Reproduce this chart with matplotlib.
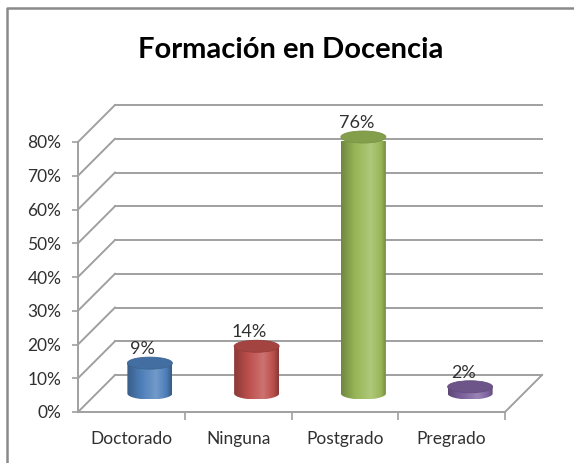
import numpy as np
import matplotlib
matplotlib.use("Agg")
import matplotlib.pyplot as plt
from matplotlib.patches import Ellipse, PathPatch
from matplotlib.path import Path
from matplotlib.lines import Line2D
from matplotlib.transforms import ScaledTranslation
from matplotlib.colors import LinearSegmentedColormap, to_rgb

plt.rcParams['font.family'] = ['Lato', 'DejaVu Sans']

# datos
categorias = ['Doctorado', 'Ninguna', 'Postgrado', 'Pregrado']
porcentajes = [9, 14, 76, 2]
colores = ['#4f81bd', '#c0504d', '#9bbb59', '#8064a2']
niveles = list(range(0, 81, 10))
titulo = 'Formación en Docencia'

W, H = 574, 463
fig = plt.figure(figsize=(W / 100, H / 100), dpi=100)
fig.patch.set_facecolor('white')

# plano frontal del grafico 3d
ax = fig.add_axes([78 / W, 51 / H, 427 / W, 270 / H])
ax.set_xlim(-0.5, 3.5)
ax.set_ylim(0, 80)
ax.set_facecolor('none')

# pixeles por unidad de datos, para la profundidad
p0 = ax.transData.transform((0, 0))
p1 = ax.transData.transform((1, 10))
px_x = p1[0] - p0[0]
px_y = (p1[1] - p0[1]) / 10
prof = 37
ddx = prof / px_x
ddy = prof / px_y

gris = '#a0a0a0'
for v in niveles:
    ax.plot([-0.5, -0.5 + ddx], [v, v + ddy], color=gris, lw=1.4, clip_on=False, zorder=1)
    ax.plot([-0.5 + ddx, 3.5 + ddx], [v + ddy, v + ddy], color=gris, lw=1.4, clip_on=False, zorder=1)
ax.plot([3.5, 3.5 + ddx], [0, ddy], color=gris, lw=1.4, clip_on=False, zorder=1)

for s in ['top', 'right']:
    ax.spines[s].set_visible(False)
for s in ['left', 'bottom']:
    ax.spines[s].set_color(gris)
    ax.spines[s].set_linewidth(1.4)

ax.set_yticks(niveles)
ax.set_yticklabels([f'{v}%' for v in niveles])
ax.tick_params(axis='y', length=4, width=1.2, color=gris, pad=8, labelsize=12.5, labelcolor='#303030')
ax.set_xticks(range(len(categorias)))
ax.set_xticklabels(categorias)
ax.tick_params(axis='x', which='major', length=0, pad=14, labelsize=12.5, labelcolor='#303030')
ax.set_xticks([0.5, 1.5, 2.5, 3.5], minor=True)
ax.tick_params(axis='x', which='minor', length=6, width=1.2, color=gris)


def mezcla(c, f):
    r = np.array(to_rgb(c))
    if f < 1:
        return tuple(r * f)
    return tuple(r + (1 - r) * (f - 1))


w = 22.5 / px_x
h = 12 / px_y
grad = np.linspace(0, 1, 200).reshape(1, -1)
for i, (v, c) in enumerate(zip(porcentajes, colores)):
    cx = i + 0.5 * ddx
    base = 0.5 * ddy
    top = v + 0.5 * ddy
    t = np.linspace(np.pi, 2 * np.pi, 60)
    xs = np.concatenate([[cx - w], cx + w * np.cos(t), [cx + w]])
    ys = np.concatenate([[top], base + h / 2 * np.sin(t), [top]])
    verts = list(zip(xs, ys)) + [(cx - w, top)]
    cuerpo = PathPatch(Path(verts), facecolor='none', edgecolor='none', zorder=3)
    ax.add_patch(cuerpo)
    cmap = LinearSegmentedColormap.from_list(
        'c%d' % i,
        [(0, mezcla(c, 0.72)), (0.3, mezcla(c, 0.97)), (0.65, mezcla(c, 1.2)),
         (0.88, mezcla(c, 0.97)), (1, mezcla(c, 0.7))])
    im = ax.imshow(grad, cmap=cmap, extent=[cx - w, cx + w, base - h / 2, top],
                   aspect='auto', zorder=3, interpolation='bilinear')
    im.set_clip_path(cuerpo)
    im.set_clip_box(None)
    ax.add_patch(Ellipse((cx, top), 2 * w, h, facecolor=mezcla(c, 0.85),
                         edgecolor=mezcla(c, 0.78), lw=0.6, zorder=4, clip_on=False))
    tr = ax.transData + ScaledTranslation(-0.07, 0.0, fig.dpi_scale_trans)
    ax.text(cx, top + h / 2, f'{v}%', transform=tr, ha='center', va='bottom',
            fontsize=13, color='#303030', zorder=5)

ax.set_xlim(-0.5, 3.5)
ax.set_ylim(0, 80)

fig.text(291 / W, 1 - 50 / H, titulo, ha='center', va='center', fontsize=21,
         fontweight='bold', color='black')

# marco parcial
fig.add_artist(Line2D([7 / W, 7 / W, 1], [0, 1 - 8 / H, 1 - 8 / H],
                      transform=fig.transFigure, color='#8a8a8a', lw=1.8))

fig.savefig('out.png', dpi=100)
